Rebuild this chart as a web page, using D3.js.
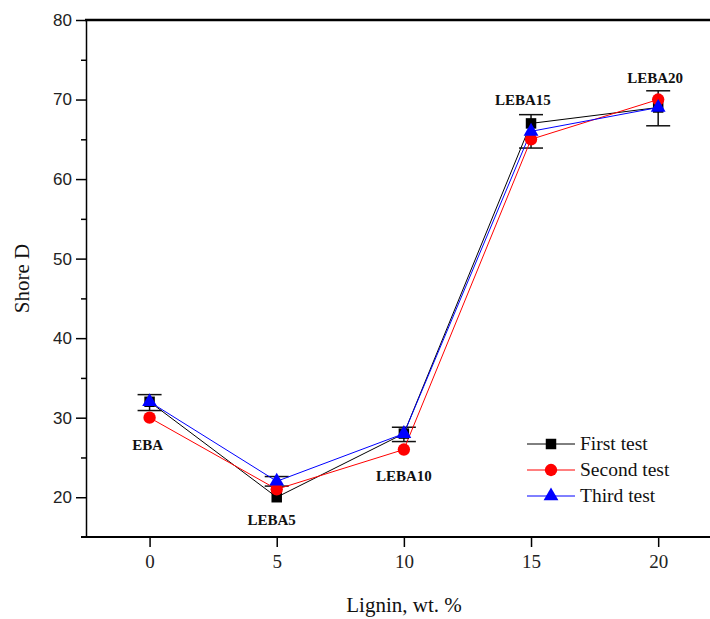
<!DOCTYPE html>
<html>
<head>
  <style type="text/css">
    body { margin: 0; background: #fff; }
    .ytick text { font: 17px "Liberation Sans", Arial, sans-serif; fill: #222; }
    .xtick text { font: 19px "Liberation Serif", serif; fill: #222; }
    .sample { font: bold 15px "Liberation Serif", serif; fill: #111; }
    .legend text { font: 19.5px "Liberation Serif", serif; fill: #111; }
    .title { font: 21px "Liberation Serif", serif; fill: #111; }
  </style>
</head>
<body>
  <div class="svg_container"></div>
  <script src="https://cdnjs.cloudflare.com/ajax/libs/d3/7.8.5/d3.min.js"></script>
  <script type="text/javascript">
    // lignin content, wt.%
    var lignin = [0, 5, 10, 15, 20];
    var sampleNames = ["EBA", "LEBA5", "LEBA10", "LEBA15", "LEBA20"];
    var firstTest = [32, 20, 28, 67, 69];
    var secondTest = [30, 21, 26, 65, 70];
    var thirdTest = [32, 22, 28, 66, 69];
    // error bars (mean and half-width)
    var errMean = [31.9, 22, 27.9, 66, 68.9];
    var errHalf = [1.0, 0.6, 0.9, 2.1, 2.2];
    var xTicks = [0, 5, 10, 15, 20];
    var yTicks = [20, 30, 40, 50, 60, 70, 80];
    var yMinor = [25, 35, 45, 55, 65, 75];
    var seriesNames = ["First test", "Second test", "Third test"];

    var W = 710, H = 619;
    var plotLeft = 86, plotTop = 20, plotBottom = 537;

    var x = d3.scaleLinear().domain([-2.5, 22.5]).range([plotLeft, plotLeft + 25 * 25.43]);
    var y = d3.scaleLinear().domain([15, 80]).range([plotBottom, plotTop]);

    var svg = d3.select(".svg_container").append("svg")
      .attr("width", W)
      .attr("height", H);

    // y axis
    var yAxis = svg.append("g")
      .attr("class", "ytick")
      .attr("transform", "translate(" + plotLeft + ",0)")
      .call(d3.axisLeft(y).tickValues(yTicks).tickSize(10).tickSizeOuter(0).tickPadding(4));
    yAxis.select(".domain").attr("stroke-width", 1.5);
    yAxis.selectAll(".tick line").attr("stroke-width", 1.5);
    svg.append("g")
      .attr("transform", "translate(" + plotLeft + ",0)")
      .call(d3.axisLeft(y).tickValues(yMinor).tickSize(5).tickFormat(""))
      .call(function(g) { g.select(".domain").remove(); })
      .selectAll("line").attr("stroke-width", 1.5);

    // x axis
    var xAxis = svg.append("g")
      .attr("class", "xtick")
      .attr("transform", "translate(0," + plotBottom + ")")
      .call(d3.axisBottom(x).tickValues(xTicks).tickSize(10).tickSizeOuter(0).tickPadding(8));
    xAxis.select(".domain").remove();
    xAxis.selectAll(".tick line").attr("stroke-width", 1.5);
    svg.append("line")
      .attr("x1", plotLeft - 5).attr("x2", W)
      .attr("y1", plotBottom).attr("y2", plotBottom)
      .attr("stroke", "#000").attr("stroke-width", 2);

    // top frame
    svg.append("line")
      .attr("x1", plotLeft - 1).attr("x2", W)
      .attr("y1", plotTop).attr("y2", plotTop)
      .attr("stroke", "#000").attr("stroke-width", 2.5);

    // axis titles
    svg.append("text")
      .attr("class", "title")
      .attr("transform", "translate(29," + y(47.5) + ") rotate(-90)")
      .attr("text-anchor", "middle")
      .text("Shore D");
    svg.append("text")
      .attr("class", "title")
      .attr("x", 404).attr("y", 612)
      .attr("text-anchor", "middle")
      .text("Lignin, wt. %");

    // error bars
    var eb = svg.append("g").attr("stroke", "#111").attr("stroke-width", 1.5);
    lignin.forEach(function(d, i) {
      var lo = y(errMean[i] - errHalf[i]), hi = y(errMean[i] + errHalf[i]);
      eb.append("line").attr("x1", x(d)).attr("x2", x(d)).attr("y1", lo).attr("y2", hi);
      eb.append("line").attr("x1", x(d) - 12).attr("x2", x(d) + 12).attr("y1", lo).attr("y2", lo);
      eb.append("line").attr("x1", x(d) - 12).attr("x2", x(d) + 12).attr("y1", hi).attr("y2", hi);
    });

    var series = [
      { name: seriesNames[0], values: firstTest, color: "#000", shape: d3.symbolSquare, size: 110 },
      { name: seriesNames[1], values: secondTest, color: "#ff0000", shape: d3.symbolCircle, size: 120 },
      { name: seriesNames[2], values: thirdTest, color: "#0000ff", shape: d3.symbolTriangle, size: 95 }
    ];

    var line = d3.line()
      .x(function(d, i) { return x(lignin[i]); })
      .y(function(d) { return y(d); });

    series.forEach(function(s) {
      svg.append("path")
        .datum(s.values)
        .attr("fill", "none")
        .attr("stroke", s.color)
        .attr("stroke-width", 1)
        .attr("d", line);
    });

    series.forEach(function(s) {
      svg.selectAll(null)
        .data(s.values)
        .enter().append("path")
        .attr("d", d3.symbol().type(s.shape).size(s.size))
        .attr("fill", s.color)
        .attr("transform", function(d, i) { return "translate(" + x(lignin[i]) + "," + y(d) + ")"; });
    });

    // sample labels
    var labelPos = [[-0.07, 25.9], [4.8, 16.5], [10, 22.0], [14.68, 69.3], [19.88, 72.1]];
    svg.selectAll(".sample")
      .data(sampleNames)
      .enter().append("text")
      .attr("class", "sample")
      .attr("x", function(d, i) { return x(labelPos[i][0]); })
      .attr("y", function(d, i) { return y(labelPos[i][1]); })
      .attr("text-anchor", "middle")
      .text(function(d) { return d; });

    // legend
    var legend = svg.append("g").attr("class", "legend");
    series.forEach(function(s, i) {
      var ly = 444 + i * 26;
      legend.append("line")
        .attr("x1", 527).attr("x2", 575)
        .attr("y1", ly).attr("y2", ly)
        .attr("stroke", s.color).attr("stroke-width", 1);
      legend.append("path")
        .attr("d", d3.symbol().type(s.shape).size(s.size))
        .attr("fill", s.color)
        .attr("transform", "translate(551," + ly + ")");
      legend.append("text")
        .attr("x", 580).attr("y", ly + 6)
        .text(s.name);
    });
  </script>
</body>
</html>
